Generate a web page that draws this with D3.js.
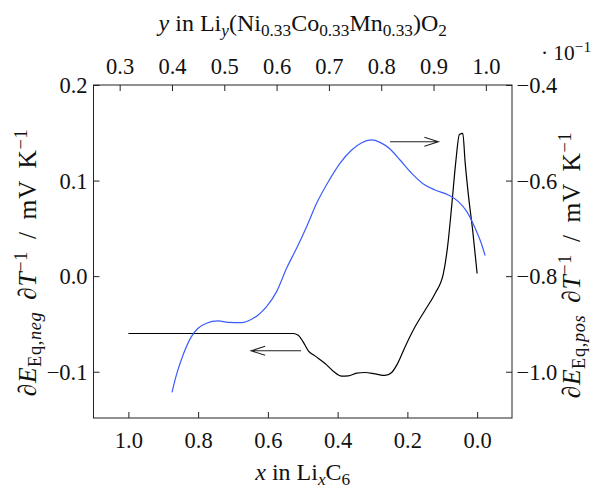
<!DOCTYPE html>
<html>
<head>
<meta charset="utf-8">
<script src="https://cdn.jsdelivr.net/npm/d3@7"></script>
<style>
  body { margin: 0; background: #fff; }
  text { font-family: "Liberation Serif", "Times New Roman", serif; fill: #111; }
</style>
</head>
<body>
<div id="chart"></div>
<script>
// Chart size
var svgWidth = 591;
var svgHeight = 489;
var frame = { left: 93.5, right: 512, top: 85, bottom: 418 };
var tickFont = 22.5;
var titleFont = 24;
var sideFont = 25.5;

// negative electrode (x in LixC6 vs left axis)
var negX = [1.0, 0.527, 0.513, 0.499, 0.484, 0.465, 0.436, 0.4125, 0.3885, 0.3695, 0.3455, 0.3216, 0.2928, 0.2641, 0.2449, 0.2306, 0.2067, 0.178, 0.1493, 0.1206, 0.0967, 0.0842, 0.0727, 0.0612, 0.0508, 0.0411, 0.0345, 0.025, 0.0123, 0.0];
var negY = [-0.060, -0.060, -0.0617, -0.0687, -0.0781, -0.0834, -0.0914, -0.0994, -0.1046, -0.1043, -0.1015, -0.1008, -0.1022, -0.1039, -0.1008, -0.0931, -0.0740, -0.0530, -0.0356, -0.0181, 0.0028, 0.0324, 0.0743, 0.1196, 0.1482, 0.1493, 0.1196, 0.0848, 0.0464, 0.0028];

// positive electrode (y in Liy(NCM)O2 vs right axis, x 10^-1)
var posX = [0.4001, 0.4085, 0.4212, 0.4372, 0.4499, 0.466, 0.4882, 0.5073, 0.533, 0.5521, 0.5648, 0.5808, 0.6, 0.6191, 0.6382, 0.6574, 0.6765, 0.6988, 0.7211, 0.7435, 0.7627, 0.7805, 0.7977, 0.8168, 0.836, 0.8584, 0.8806, 0.903, 0.9285, 0.9476, 0.9637, 0.9796, 0.9924, 0.9987];
var posY = [-1.043, -1.0067, -0.965, -0.9265, -0.909, -0.8986, -0.8937, -0.8965, -0.8972, -0.8902, -0.8812, -0.8638, -0.8324, -0.7835, -0.7416, -0.6964, -0.6475, -0.6023, -0.5638, -0.536, -0.5207, -0.515, -0.52, -0.5339, -0.5569, -0.5848, -0.6071, -0.6197, -0.6301, -0.6441, -0.665, -0.6999, -0.7347, -0.7571];

// tick values
var bottomTicks = [1.0, 0.8, 0.6, 0.4, 0.2, 0.0];
var topTicks = [0.3, 0.4, 0.5, 0.6, 0.7, 0.8, 0.9, 1.0];
var leftTicks = [0.2, 0.1, 0.0, -0.1];
var rightTicks = [-0.4, -0.6, -0.8, -1.0];

var svg = d3.select("#chart").append("svg").attr("width", svgWidth).attr("height", svgHeight);

// scales
var xBottom = d3.scaleLinear().domain([1.1, -0.1]).range([frame.left, frame.right]);
var xTop = d3.scaleLinear().domain([0.25, 1.05]).range([frame.left, frame.right]);
var yLeft = d3.scaleLinear().domain([-0.1484, 0.2]).range([frame.bottom, frame.top]);
var yRight = d3.scaleLinear().domain([-1.0968, -0.4]).range([frame.bottom, frame.top]);

var fmt = d3.format(".1f");
var tick = 6;

styleAxis = (g) => {
  g.select(".domain").remove();
  g.selectAll("line").attr("stroke", "#222").attr("stroke-width", 1);
  g.selectAll("text").attr("font-size", tickFont).attr("fill", "#111").attr("font-family", null);
  return g;
}

var bottomAxis = svg.append("g").attr("transform", `translate(0, ${frame.bottom})`)
  .call(d3.axisBottom(xBottom).tickValues(bottomTicks).tickFormat(fmt).tickSize(-tick).tickSizeOuter(0));
styleAxis(bottomAxis);
bottomAxis.selectAll("text").attr("dy", null).attr("y", 30);

var topAxis = svg.append("g").attr("transform", `translate(0, ${frame.top})`)
  .call(d3.axisTop(xTop).tickValues(topTicks).tickFormat(fmt).tickSize(-tick).tickSizeOuter(0));
styleAxis(topAxis);
topAxis.selectAll("text").attr("dy", null).attr("y", -11);

var leftAxis = svg.append("g").attr("transform", `translate(${frame.left}, 0)`)
  .call(d3.axisLeft(yLeft).tickValues(leftTicks).tickFormat(fmt).tickSize(-tick).tickSizeOuter(0));
styleAxis(leftAxis);
leftAxis.selectAll("text").attr("x", -6).attr("dy", "0.34em");

var rightAxis = svg.append("g").attr("transform", `translate(${frame.right}, 0)`)
  .call(d3.axisRight(yRight).tickValues(rightTicks).tickFormat(fmt).tickSize(-tick).tickSizeOuter(0));
styleAxis(rightAxis);
rightAxis.selectAll("text").attr("x", 4.5).attr("dy", "0.34em");

// frame
svg.append("rect").attr("x", frame.left).attr("y", frame.top)
  .attr("width", frame.right - frame.left).attr("height", frame.bottom - frame.top)
  .attr("fill", "none").attr("stroke", "#222").attr("stroke-width", 1);

// curves
var negLine = d3.line().x((d, i) => xBottom(negX[i])).y((d, i) => yLeft(negY[i])).curve(d3.curveMonotoneX);
var posLine = d3.line().x((d, i) => xTop(posX[i])).y((d, i) => yRight(posY[i])).curve(d3.curveMonotoneX);

svg.append("path").attr("d", negLine(negX)).attr("fill", "none").attr("stroke", "#000").attr("stroke-width", 1.2);
svg.append("path").attr("d", posLine(posX)).attr("fill", "none").attr("stroke", "#3a5cff").attr("stroke-width", 1.2);

// arrows
drawArrow = (x1, x2, y) => {
  var dir = x2 > x1 ? -1 : 1;
  svg.append("path")
    .attr("d", `M${x1},${y}L${x2},${y}M${x2 + dir * 14},${y - 4.5}L${x2},${y}L${x2 + dir * 14},${y + 4.5}`)
    .attr("fill", "none").attr("stroke", "#222").attr("stroke-width", 1.1);
}
drawArrow(xTop(0.8168), xTop(0.9093), yRight(-0.5186));
drawArrow(xBottom(0.505), xBottom(0.648), yLeft(-0.0781));

// titles with sub/superscripts
addRich = (g, parts, size) => {
  var t = g.append("text").attr("font-size", size).attr("text-anchor", "middle");
  var shift = 0;
  parts.forEach(p => {
    var off = p.sub ? size * 0.2 : (p.sup ? -size * 0.36 : 0);
    var s = t.append("tspan").text(p.t).attr("dy", off - shift);
    if (p.sub || p.sup) s.attr("font-size", size * 0.72);
    if (p.i) s.attr("font-style", "italic");
    shift = off;
  });
  return t;
}

var topTitle = svg.append("g").attr("transform", `translate(${(frame.left + frame.right) / 2}, 31)`);
addRich(topTitle, [{t: "y", i: 1}, {t: " in Li"}, {t: "y", sub: 1, i: 1}, {t: "(Ni"}, {t: "0.33", sub: 1},
  {t: "Co"}, {t: "0.33", sub: 1}, {t: "Mn"}, {t: "0.33", sub: 1}, {t: ")O"}, {t: "2", sub: 1}], titleFont);

var bottomTitle = svg.append("g").attr("transform", `translate(${(frame.left + frame.right) / 2}, 480)`);
addRich(bottomTitle, [{t: "x", i: 1}, {t: " in Li"}, {t: "x", sub: 1, i: 1}, {t: "C"}, {t: "6", sub: 1}], titleFont);

var sideParts = (el) => [{t: "∂"}, {t: "E", i: 1}, {t: "Eq,", sub: 1}, {t: el, sub: 1, i: 1}, {t: " ∂"}, {t: "T", i: 1},
  {t: "−1", sup: 1}, {t: " / mV K"}, {t: "−1", sup: 1}];

var leftTitle = svg.append("g").attr("transform", "translate(36, 262.5) rotate(-90)");
addRich(leftTitle, sideParts("neg"), sideFont).attr("letter-spacing", 0.6).attr("word-spacing", 5);

var rightTitle = svg.append("g").attr("transform", "translate(580, 265) rotate(-90)");
addRich(rightTitle, sideParts("pos"), sideFont).attr("letter-spacing", 0.6).attr("word-spacing", 5);

// multiplier for the right axis
var mult = svg.append("g").attr("transform", "translate(566, 60)");
addRich(mult, [{t: "· 10"}, {t: "−1", sup: 1}], tickFont * 0.95);
</script>
</body>
</html>
